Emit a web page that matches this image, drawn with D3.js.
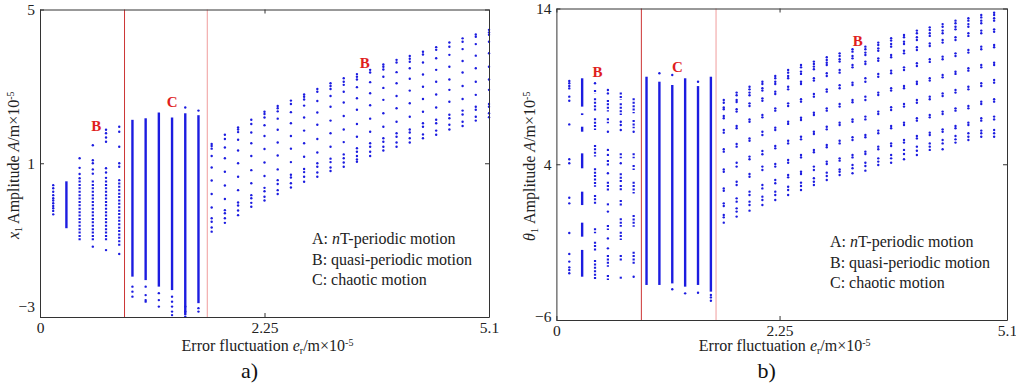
<!DOCTYPE html>
<html>
<head>
<meta charset="utf-8">
<script src="https://cdn.jsdelivr.net/npm/d3@7"></script>
<style>
  body { margin: 0; background: #fff; }
  svg text { font-family: "Liberation Serif", serif; }
</style>
</head>
<body>
<svg id="fig" width="1016" height="384" font-family="Liberation Serif, serif"></svg>
<script>
// ---- data ----
var xTickLabels = ["0", "2.25", "5.1"];

// panel a) x1 amplitude
var x1Ticks = [-3, 1, 5];
var x1Bounds = [0.96, 1.9];
var x1Dots = [
  [0.15, [0.43, 0.35, 0.26, 0.17, 0.09, 0.03, -0.04, -0.11, -0.17, -0.24, -0.33]],
  [0.45, [1.13, 0.88, 0.72, 0.61]],
  [0.6, [1.47, 1.08, 1.0, 0.84, 0.73, -1.17]],
  [0.75, [1.87, 1.78, 1.67, 1.56, 0.87, 0.76, 0.62, -1.26]],
  [0.9, [1.95, 1.82, 1.43, 1.0, 0.91, 0.56, -1.36]],
  [1.05, [-2.21, -2.34, -2.47]],
  [1.2, [-2.21, -2.43, -2.56, -2.60]],
  [1.35, [-2.38, -2.56, -2.73]],
  [1.5, [-2.47, -2.60, -2.73, -2.86, -2.95]],
  [1.65, [2.45, -2.73, -2.86, -2.99]],
  [1.8, [2.37, -2.77, -2.86]],
  [1.95, [1.50, 1.45, 1.38, 1.19, 0.89, 0.55, 0.20, -0.15, -0.43, -0.52, -0.67, -0.78]],
  [2.1, [1.74, 1.63, 1.41, 1.13, 0.78, 0.42, 0.07, -0.22, -0.30, -0.43, -0.55]],
  [2.25, [1.93, 1.88, 1.81, 1.61, 1.33, 1.00, 0.65, 0.30, -0.02, -0.10, -0.23, -0.35]],
  [2.4, [2.13, 2.02, 1.80, 1.52, 1.19, 0.82, 0.48, 0.17, 0.09, -0.03, -0.13]],
  [2.55, [2.34, 2.28, 2.19, 1.99, 1.71, 1.37, 1.02, 0.67, 0.36, 0.27, 0.13, 0.03]],
  [2.7, [2.49, 2.43, 2.35, 2.16, 1.87, 1.54, 1.20, 0.84, 0.56, 0.46, 0.30, 0.20]],
  [2.85, [2.63, 2.54, 2.33, 2.04, 1.71, 1.38, 1.03, 0.70, 0.63, 0.48, 0.37]],
  [3.0, [2.79, 2.73, 2.66, 2.50, 2.19, 1.85, 1.52, 1.17, 0.85, 0.77, 0.65, 0.52]],
  [3.15, [2.93, 2.86, 2.62, 2.32, 2.00, 1.63, 1.28, 1.00, 0.91, 0.76, 0.65]],
  [3.3, [3.08, 3.01, 2.93, 2.75, 2.47, 2.11, 1.78, 1.43, 1.12, 1.03, 0.89, 0.80]],
  [3.45, [3.21, 3.12, 3.04, 2.86, 2.58, 2.23, 1.88, 1.55, 1.23, 1.13, 1.02, 0.91]],
  [3.6, [3.32, 3.25, 3.18, 2.98, 2.69, 2.39, 2.02, 1.69, 1.39, 1.30, 1.19, 1.10, 1.04]],
  [3.75, [3.43, 3.36, 3.11, 2.82, 2.51, 2.16, 1.82, 1.52, 1.43, 1.30, 1.19]],
  [3.9, [3.57, 3.51, 3.44, 3.25, 2.96, 2.65, 2.30, 1.95, 1.65, 1.56, 1.43, 1.33]],
  [4.05, [3.69, 3.62, 3.37, 3.08, 2.75, 2.43, 2.08, 1.78, 1.69, 1.54, 1.43]],
  [4.2, [3.79, 3.72, 3.64, 3.47, 3.20, 2.89, 2.56, 2.21, 1.88, 1.80, 1.65, 1.54]],
  [4.35, [3.90, 3.83, 3.62, 3.31, 2.99, 2.67, 2.34, 2.04, 1.95, 1.75, 1.65]],
  [4.5, [4.02, 3.95, 3.73, 3.43, 3.12, 2.79, 2.45, 2.13, 2.04, 1.85, 1.74]],
  [4.65, [4.14, 4.03, 3.82, 3.51, 3.18, 2.91, 2.60, 2.26, 2.17, 2.00, 1.88]],
  [4.8, [4.25, 4.16, 3.97, 3.66, 3.36, 3.01, 2.67, 2.37, 2.27, 2.08, 1.97]],
  [4.95, [4.35, 4.29, 4.10, 3.80, 3.47, 3.12, 2.78, 2.47, 2.39, 2.21, 2.11]],
  [5.1, [4.47, 4.40, 4.34, 4.16, 3.86, 3.51, 3.18, 2.91, 2.54, 2.47, 2.30, 2.20]]
];
// runs of closely packed dots [e, low, high]
var x1Dense = [[0.45, -1.02, 0.55], [0.6, -1.0, 0.55], [0.75, -1.04, 0.55], [0.9, -1.15, 0.5]];
// solid (chaotic / filled) runs [e, low, high]
var x1Chaos = [[0.3, -0.69, 0.53], [1.05, -1.95, 2.13], [1.2, -2.04, 2.17], [1.35, -2.21, 2.32],
  [1.5, -2.30, 2.19], [1.65, -2.95, 2.30], [1.8, -2.64, 2.25]];
var x1Marks = [["B", 0.64, 1.97], ["C", 1.5, 2.6], ["B", 3.69, 3.62]];

// panel b) theta1 amplitude
var th1Ticks = [-6, 4, 14];
var th1Bounds = [0.99, 1.86];
var th1Dots = [
  [0.15, [9.35, 9.2, 9.02, 8.87, 8.34, 8.08, 6.56, 4.32, 4.06, 1.85, 1.49, -0.41, -1.76, -2.25, -2.62, -2.79, -3.0]],
  [0.45, [9.2]],
  [0.6, [8.77, 8.55, 6.09, 4.92, 4.6, 3.42, 0.96, -0.76, -1.40]],
  [0.75, [6.73, 6.52, 6.20, 4.06]],
  [0.9, [6.09, -3.22]],
  [1.2, [9.84]], [1.35, [9.73, -4.03]], [1.5, [-4.29]], [1.65, [9.30, -4.25]], [1.8, [-4.39, -4.55, -4.76]],
  [1.95, [8.13, 7.95, 7.65, 7.53, 7.10, 6.95, 6.20, 6.03, 4.96, 4.81, 3.67, 3.52, 2.45, 2.30, 1.49, 1.32, 0.74, 0.59, 0.25]],
  [2.1, [8.60, 8.43, 8.13, 8.00, 7.53, 7.38, 6.46, 6.31, 5.30, 5.13, 4.10, 3.85, 2.88, 2.67, 1.81, 1.60, 1.17, 0.96, 0.64]],
  [2.25, [8.98, 8.81, 8.60, 8.43, 7.91, 7.74, 6.88, 6.73, 5.66, 5.51, 4.49, 4.32, 3.37, 3.20, 2.24, 2.03, 1.60, 1.38, 1.02]],
  [2.4, [9.30, 9.15, 8.88, 8.73, 8.23, 8.08, 7.16, 7.01, 6.09, 5.88, 4.85, 4.64, 3.85, 3.63, 2.67, 2.45, 1.92, 1.70, 1.38]],
  [2.55, [9.67, 9.52, 9.30, 9.15, 8.66, 8.51, 7.59, 7.44, 6.35, 6.20, 5.17, 5.02, 4.02, 3.85, 2.99, 2.78, 2.24, 2.03, 1.70]],
  [2.7, [10.05, 9.88, 9.67, 9.52, 8.98, 8.81, 7.91, 7.74, 6.73, 6.59, 5.51, 5.34, 4.27, 4.10, 3.31, 3.16, 2.56, 2.35, 2.03]],
  [2.85, [10.37, 10.22, 9.95, 9.80, 9.30, 9.15, 8.17, 8.02, 6.99, 6.84, 5.77, 5.60, 4.59, 4.44, 3.52, 3.37, 2.82, 2.60, 2.35]],
  [3.0, [10.59, 10.44, 10.27, 10.10, 9.52, 9.37, 8.51, 8.34, 7.31, 7.16, 6.09, 5.94, 4.92, 4.77, 3.85, 3.63, 3.10, 2.88, 2.67]],
  [3.15, [10.87, 10.69, 10.52, 10.37, 9.84, 9.67, 8.81, 8.66, 7.59, 7.44, 6.41, 6.24, 5.24, 5.09, 4.17, 4.02, 3.46, 3.25, 2.99]],
  [3.3, [11.12, 10.95, 10.74, 10.59, 10.05, 9.88, 9.07, 8.88, 7.87, 7.70, 6.67, 6.52, 5.51, 5.34, 4.38, 4.23, 3.67, 3.52, 3.31]],
  [3.45, [11.38, 11.23, 10.95, 10.80, 10.37, 10.22, 9.24, 9.09, 8.13, 7.98, 6.88, 6.73, 5.73, 5.56, 4.59, 4.44, 3.95, 3.74, 3.42]],
  [3.6, [11.55, 11.38, 11.17, 11.01, 10.59, 10.44, 9.52, 9.30, 8.34, 8.13, 7.06, 6.88, 5.88, 5.73, 4.81, 4.66, 4.10, 3.89, 3.59]],
  [3.75, [11.81, 11.66, 11.44, 11.29, 10.80, 10.65, 9.80, 9.62, 8.60, 8.45, 7.38, 7.23, 6.16, 5.99, 5.13, 4.96, 4.38, 4.17, 3.95]],
  [3.9, [12.09, 11.94, 11.72, 11.55, 11.02, 10.87, 10.01, 9.84, 8.88, 8.73, 7.66, 7.48, 6.46, 6.31, 5.34, 5.17, 4.59, 4.38, 4.10]],
  [4.05, [12.30, 12.15, 11.87, 11.72, 11.29, 11.12, 10.22, 10.05, 9.02, 8.88, 7.87, 7.70, 6.67, 6.52, 5.56, 5.39, 4.92, 4.66, 4.32]],
  [4.2, [12.58, 12.41, 12.15, 11.98, 11.51, 11.34, 10.48, 10.31, 9.30, 9.15, 8.13, 7.95, 6.95, 6.80, 5.81, 5.66, 5.13, 4.87, 4.59]],
  [4.35, [12.79, 12.62, 12.41, 12.24, 11.76, 11.59, 10.74, 10.57, 9.52, 9.37, 8.34, 8.17, 7.16, 7.01, 6.03, 5.88, 5.34, 5.13, 4.92]],
  [4.5, [13.00, 12.83, 12.58, 12.41, 11.98, 11.81, 10.91, 10.74, 9.73, 9.58, 8.55, 8.38, 7.38, 7.23, 6.24, 6.09, 5.56, 5.34, 4.96]],
  [4.65, [13.22, 13.05, 12.83, 12.66, 12.15, 11.98, 11.12, 10.95, 9.94, 9.80, 8.77, 8.60, 7.59, 7.44, 6.46, 6.31, 5.81, 5.60, 5.39]],
  [4.8, [13.37, 13.22, 13.00, 12.83, 12.41, 12.24, 11.34, 11.17, 10.16, 10.01, 8.98, 8.81, 7.74, 7.59, 6.67, 6.52, 5.99, 5.77, 5.56]],
  [4.95, [13.58, 13.43, 13.22, 13.05, 12.58, 12.41, 11.55, 11.38, 10.37, 10.22, 9.20, 9.02, 8.02, 7.87, 6.95, 6.80, 6.16, 5.99, 5.77]],
  [5.1, [13.73, 13.58, 13.37, 13.22, 12.66, 12.51, 11.66, 11.51, 10.52, 10.37, 9.41, 9.24, 8.17, 8.02, 7.06, 6.88, 6.20, 5.99, 5.77]]
];
var th1Dense = [
  [0.45, 8.55, 8.77], [0.45, 7.38, 8.23], [0.45, 6.20, 6.95], [0.45, 4.49, 5.24], [0.45, 2.56, 3.74],
  [0.45, 1.38, 2.03], [0.45, -0.43, -0.11], [0.45, -1.61, -0.97], [0.45, -3.43, -2.15],
  [0.6, 7.38, 8.13], [0.6, 6.63, 6.95], [0.6, 3.85, 4.27], [0.6, 2.24, 2.88], [0.6, 1.28, 1.49],
  [0.6, -0.22, 0.1], [0.6, -2.58, -1.83], [0.6, -3.43, -3.11],
  [0.75, 8.13, 8.6], [0.75, 7.16, 7.91], [0.75, 4.38, 4.70], [0.75, 2.77, 3.42], [0.75, 2.24, 2.67],
  [0.75, 1.28, 1.70], [0.75, -0.01, 0.53], [0.75, -0.86, -0.33], [0.75, -2.25, -1.83], [0.75, -3.43, -3.22],
  [0.9, 7.27, 8.23], [0.9, 6.31, 6.84], [0.9, 4.38, 4.70], [0.9, 3.63, 3.95], [0.9, 2.13, 2.88],
  [0.9, -0.01, 0.74], [0.9, -2.47, -1.61]
];
var th1Chaos = [
  [0.3, 7.70, 9.52], [0.3, 7.16, 7.27], [0.3, 6.09, 6.41], [0.3, 3.74, 4.70], [0.3, 1.38, 2.24],
  [0.3, -0.65, 0.25], [0.3, -3.22, -1.50],
  [1.05, -3.75, 9.62], [1.2, -3.75, 9.30], [1.35, -3.65, 9.09], [1.5, -3.86, 9.52],
  [1.65, -3.75, 9.02], [1.8, -4.18, 9.62]
];
var th1Marks = [["B", 0.48, 9.94], ["C", 1.41, 10.26], ["B", 3.51, 11.93]];

var legendRows = [["A: ", "n", "T-periodic motion"], ["B: quasi-periodic motion", "", ""], ["C: chaotic motion", "", ""]];

// ---- drawing ----
var svg = d3.select("#fig");
var blue = "#1c1ce0";
var serif = "Liberation Serif, serif";

function drawPanel(p) {
  var g = svg.append("g");
  var x = d3.scaleLinear().domain([0, p.xMax]).range([p.left, p.right]);
  var y = d3.scaleLinear().domain([p.yTicks[0], p.yTicks[2]]).range([p.bottom, p.top]);

  // region boundaries
  g.selectAll(".bound").data(p.bounds).enter().append("line")
    .attr("x1", d => x(d)).attr("x2", d => x(d))
    .attr("y1", p.top).attr("y2", p.bottom)
    .attr("stroke", (d, i) => i ? "#f09c9c" : "#cc3535")
    .attr("stroke-width", 1);

  // solid runs
  g.selectAll(".chaos").data(p.chaos).enter().append("line")
    .attr("x1", d => x(d[0])).attr("x2", d => x(d[0]))
    .attr("y1", d => y(d[1])).attr("y2", d => y(d[2]))
    .attr("stroke", blue).attr("stroke-width", 2.4);

  // packed dotted runs
  g.selectAll(".dense").data(p.dense).enter().append("line")
    .attr("x1", d => x(d[0])).attr("x2", d => x(d[0]))
    .attr("y1", d => y(d[2])).attr("y2", d => y(d[1]))
    .attr("stroke", blue).attr("stroke-width", 2.2)
    .attr("stroke-dasharray", "2,1.4");

  // single points
  var pts = p.dots.flatMap(c => c[1].map(v => [c[0], v]));
  g.selectAll(".pt").data(pts).enter().append("circle")
    .attr("cx", d => x(d[0])).attr("cy", d => y(d[1]))
    .attr("r", 1.2).attr("fill", blue);

  // box axes with inward ticks
  function style(a) {
    a.attr("font-family", serif).attr("font-size", 15.5).attr("color", "#333");
    a.selectAll("text").attr("fill", "#222");
  }
  g.append("g").attr("transform", `translate(0,${p.bottom})`)
    .call(d3.axisBottom(x).tickValues(p.xTicks).tickSizeInner(-4).tickSizeOuter(0)
      .tickPadding(5).tickFormat((d, i) => xTickLabels[i]))
    .call(style);
  g.append("g").attr("transform", `translate(0,${p.top})`)
    .call(d3.axisTop(x).tickValues(p.xTicks).tickSizeInner(-4).tickSizeOuter(0).tickFormat(""))
    .call(style);
  var la = g.append("g").attr("transform", `translate(${p.left},0)`)
    .call(d3.axisLeft(y).tickValues(p.yTicks).tickSizeInner(-4).tickSizeOuter(0).tickPadding(5))
    .call(style);
  la.selectAll(".tick text").filter(d => d === p.yTicks[0]).attr("dy", p.lowNudge);
  g.append("g").attr("transform", `translate(${p.right},0)`)
    .call(d3.axisRight(y).tickValues(p.yTicks).tickSizeInner(-4).tickSizeOuter(0).tickFormat(""))
    .call(style);

  // region letters
  g.selectAll(".mark").data(p.marks).enter().append("text")
    .attr("x", d => x(d[1])).attr("y", d => y(d[2]))
    .attr("dy", "0.35em").attr("text-anchor", "middle")
    .attr("font-family", serif).attr("font-size", 15)
    .attr("font-weight", "bold").attr("fill", "#e01e1e")
    .text(d => d[0]);

  // legend
  var lg = g.append("g").attr("font-family", serif).attr("font-size", 16).attr("fill", "#222");
  legendRows.forEach(function(r, i) {
    var t = lg.append("text").attr("x", p.right - 177).attr("y", p.bottom - 73 + i * 20.5);
    t.append("tspan").text(r[0]);
    if (r[1]) t.append("tspan").attr("font-style", "italic").text(r[1]);
    if (r[2]) t.append("tspan").text(r[2]);
  });

  // x title
  var mid = (p.left + p.right) / 2;
  var xt = g.append("text").attr("x", mid + 3).attr("y", 351)
    .attr("text-anchor", "middle").attr("font-family", serif)
    .attr("font-size", 16).attr("fill", "#222");
  xt.append("tspan").text("Error fluctuation ");
  xt.append("tspan").attr("font-style", "italic").text("e");
  xt.append("tspan").attr("font-size", 10).attr("dy", 3).text("r");
  xt.append("tspan").attr("dy", -3).text("/m×10");
  xt.append("tspan").attr("font-size", 10).attr("dy", -5).text("-5");

  // y title
  var yt = g.append("text")
    .attr("transform", `translate(${p.left - 21},${(p.top + p.bottom) / 2 + 2}) rotate(-90)`)
    .attr("text-anchor", "middle").attr("font-family", serif)
    .attr("font-size", 16).attr("fill", "#222");
  yt.append("tspan").attr("font-style", "italic").text(p.sym);
  yt.append("tspan").attr("font-size", 10).attr("dy", 3).text("1");
  yt.append("tspan").attr("dy", -3).text(" Amplitude ");
  yt.append("tspan").attr("font-style", "italic").text("A");
  yt.append("tspan").text("/m×10");
  yt.append("tspan").attr("font-size", 10).attr("dy", -5).text("-5");

  // panel caption
  g.append("text").attr("x", mid - 15).attr("y", 378)
    .attr("text-anchor", "middle").attr("font-family", serif)
    .attr("font-size", 22).attr("fill", "#111")
    .text(p.caption);
}

drawPanel({
  left: 40, right: 489, top: 9.5, bottom: 317, xMax: 5.1, xTicks: [0, 2.55, 5.1],
  yTicks: x1Ticks, bounds: x1Bounds, dots: x1Dots, dense: x1Dense, chaos: x1Chaos,
  marks: x1Marks, sym: "x", caption: "a)", lowNudge: "-0.35em"
});
drawPanel({
  left: 556.4, right: 1007, top: 8.5, bottom: 320, xMax: 5.25, xTicks: [0, 2.6, 5.25],
  yTicks: th1Ticks, bounds: th1Bounds, dots: th1Dots, dense: th1Dense, chaos: th1Chaos,
  marks: th1Marks, sym: "θ", caption: "b)", lowNudge: "0.12em"
});
</script>
</body>
</html>
